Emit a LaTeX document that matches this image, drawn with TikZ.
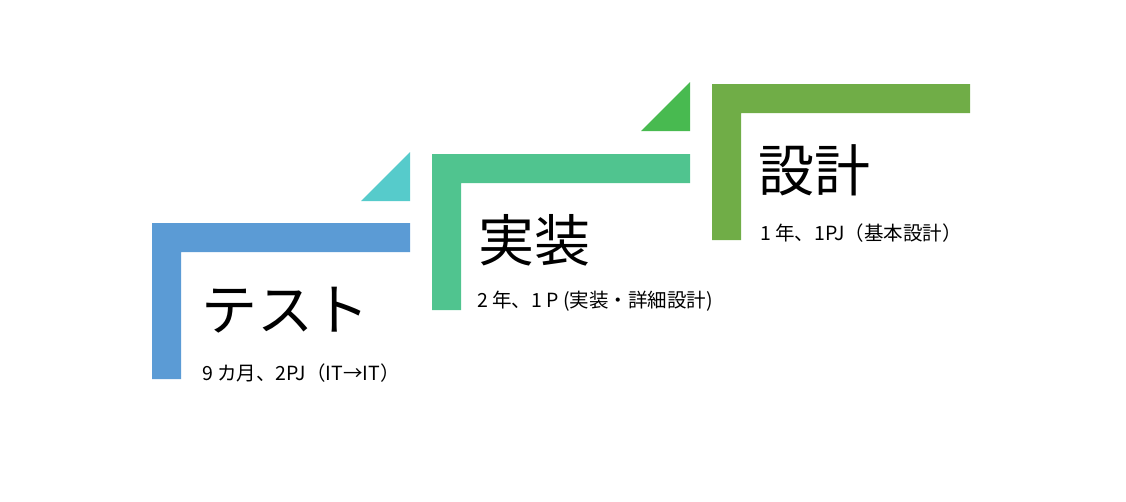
\documentclass[tikz,border=0pt]{standalone}
\usepackage{fontspec}
\setmainfont{Noto Sans CJK JP}
\usetikzlibrary{positioning}

\definecolor{testBlue}{RGB}{91,155,213}
\definecolor{testCyan}{RGB}{86,203,203}
\definecolor{implGreen}{RGB}{80,196,143}
\definecolor{implLeaf}{RGB}{72,186,80}
\definecolor{designOlive}{RGB}{112,173,71}

\begin{document}
\begin{tikzpicture}[x = 1pt, y = -1pt,
	title/.style = {anchor = west, inner sep = 0pt, font = \fontsize{56}{56}\selectfont},
	detail/.style = {anchor = west, inner sep = 0pt, font = \fontsize{19.5}{19.5}\selectfont}]

		% canvas
		\useasboundingbox (0, 0) rectangle (1126, 501);

		% contant definitions
		\def\barWidth{29}
		\def\frameWidth{258}
		\def\frameHeight{156}

		% phase 1: test
		\begin{scope}[shift = {(152, 223)}]
			\coordinate (TL) at (0, 0);
			\fill[testBlue] (TL) -- ++(\frameWidth, 0) -- ++(0, \barWidth) -- (\barWidth, \barWidth) -- (\barWidth, \frameHeight) -- (0, \frameHeight) -- cycle;
			\fill[testCyan] (\frameWidth, -71) -- (\frameWidth, -22) -- (\frameWidth - 49, -22) -- cycle;
			\node[title] (testTitle) at (49, 87) {テスト};
			\node[detail] (testDetail) at (50, 150) {9 カ月、2PJ（IT→IT）};
		\end{scope}

		% phase 2: implementation
		\begin{scope}[shift = {(432, 154)}]
			\coordinate (IL) at (0, 0);
			\fill[implGreen] (IL) -- ++(\frameWidth, 0) -- ++(0, \barWidth) -- (\barWidth, \barWidth) -- (\barWidth, \frameHeight) -- (0, \frameHeight) -- cycle;
			\fill[implLeaf] (\frameWidth, -72) -- (\frameWidth, -23) -- (\frameWidth - 49, -23) -- cycle;
			\node[title] (implTitle) at (46, 86) {実装};
			\node[detail] (implDetail) at (45, 147) {2 年、1 P (実装・詳細設計)};
		\end{scope}

		% phase 3: design
		\begin{scope}[shift = {(712, 84)}]
			\coordinate (DL) at (0, 0);
			\fill[designOlive] (DL) -- ++(\frameWidth, 0) -- ++(0, \barWidth) -- (\barWidth, \barWidth) -- (\barWidth, \frameHeight) -- (0, \frameHeight) -- cycle;
			\node[title] (designTitle) at (46, 86) {設計};
			\node[detail] (designDetail) at (48, 149) {1 年、1PJ（基本設計）};
		\end{scope}

	\end{tikzpicture}
\end{document}
